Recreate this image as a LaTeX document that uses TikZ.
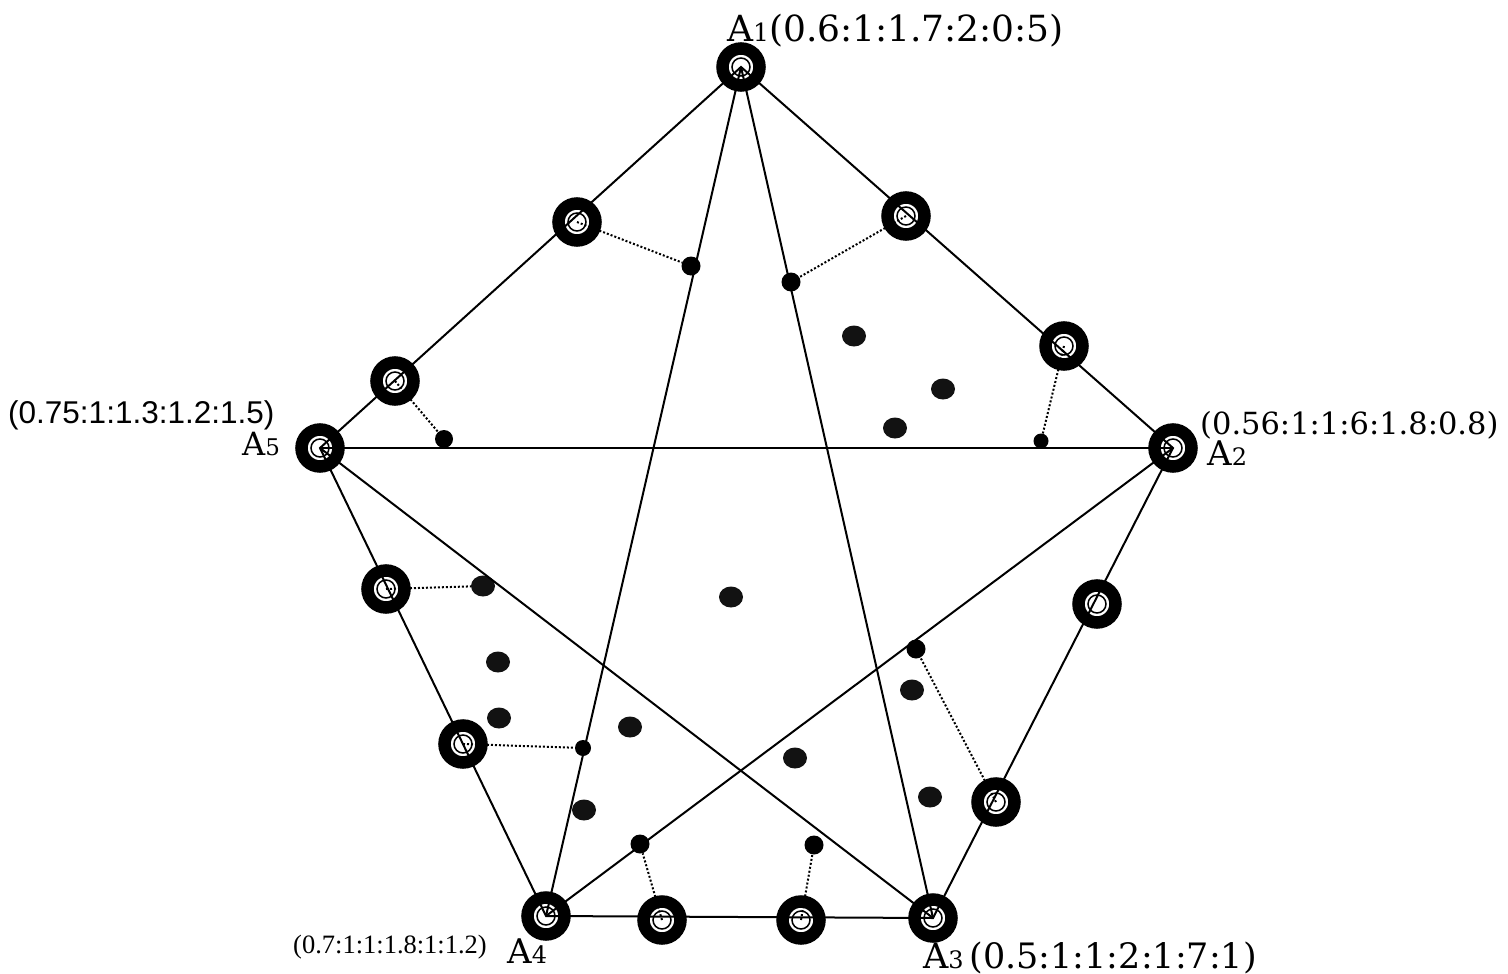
\documentclass[tikz,border=0pt]{standalone}
\usepackage{fontspec}
\usetikzlibrary{shapes.geometric}
\newfontfamily\labserif{DejaVu Serif}
\newfontfamily\labsans{Liberation Sans}
\newfontfamily\labtimes{Liberation Serif}

\begin{document}
\begin{tikzpicture}[x=1pt, y=-1pt,
  ring/.style={circle, draw=black, line width=12.5pt, fill=white, minimum size=37pt, inner sep=0pt,
    path picture={\draw[line width=1.5pt] (path picture bounding box.center) circle[radius=9pt];}},
  bigdot/.style={ellipse, fill=black!93, minimum width=24pt, minimum height=21pt, inner sep=0pt},
  smalldot/.style={circle, fill=black, minimum size=#1, inner sep=0pt},
  smalldot/.default=19pt,
  edge/.style={line width=2pt},
  link/.style={line width=2pt, dash pattern=on 2pt off 2pt},
  lab/.style={anchor=base west, inner sep=0pt}]
  \useasboundingbox (0,0) rectangle (1508,974);

  % corners of the pentagon
  \node[ring] (a1) at (741,67) {};
  \node[ring] (a2) at (1173,448) {};
  \node[ring] (a3) at (933,918) {};
  \node[ring] (a4) at (546,916) {};
  \node[ring] (a5) at (320,448) {};

  % rings on the sides
  \node[ring] (r15a) at (577,222) {};
  \node[ring] (r15b) at (395,381) {};
  \node[ring] (r12a) at (906,216) {};
  \node[ring] (r12b) at (1064,346) {};
  \node[ring] (r23a) at (1097,604) {};
  \node[ring] (r23b) at (996,802) {};
  \node[ring] (r34a) at (801,920) {};
  \node[ring] (r34b) at (662,920) {};
  \node[ring] (r45a) at (463,744) {};
  \node[ring] (r45b) at (386,589) {};

  % dots tied to the rings
  \node[smalldot] (d1) at (691,266) {};
  \node[smalldot] (d2) at (791,282) {};
  \node[smalldot=18pt] (d3) at (444,439) {};
  \node[smalldot=15pt] (d4) at (1041,441) {};
  \node[bigdot] (d5) at (483,586) {};
  \node[smalldot=16pt] (d6) at (583,748) {};
  \node[smalldot] (d7) at (640,844) {};
  \node[smalldot] (d8) at (814,845) {};
  \node[smalldot] (d9) at (916,649) {};

  % free dots
  \node[bigdot] (f1) at (854,336) {};
  \node[bigdot] (f2) at (943,389) {};
  \node[bigdot] (f3) at (895,428) {};
  \node[bigdot] (f4) at (731,597) {};
  \node[bigdot] (f5) at (498,662) {};
  \node[bigdot] (f6) at (499,718) {};
  \node[bigdot] (f7) at (630,727) {};
  \node[bigdot] (f8) at (795,758) {};
  \node[bigdot] (f9) at (584,810) {};
  \node[bigdot] (f10) at (912,690) {};
  \node[bigdot] (f11) at (930,797) {};

  \draw[edge] (a1.center) -- (a2.center) -- (a3.center) -- (a4.center) -- (a5.center) -- cycle;
  \draw[edge] (a1.center) -- (a4.center);
  \draw[edge] (a1.center) -- (a3.center);
  \draw[edge] (a5.center) -- (a2.center);
  \draw[edge] (a5.center) -- (a3.center);
  \draw[edge] (a2.center) -- (a4.center);

  \draw[link] (r15a.center) -- (d1);
  \draw[link] (r12a.center) -- (d2);
  \draw[link] (r15b.center) -- (d3);
  \draw[link] (r12b.center) -- (d4);
  \draw[link] (r45b.center) -- (d5);
  \draw[link] (r45a.center) -- (d6);
  \draw[link] (r34b.center) -- (d7);
  \draw[link] (r34a.center) -- (d8);
  \draw[link] (r23b.center) -- (d9);

  \node[lab] (t1) at (727,42) {\labserif\fontsize{36}{36}\selectfont A{\fontsize{25}{25}\selectfont 1}(0.6:1:1.7:2:0:5)};
  \node[lab] (t2) at (1200,434) {\labserif\fontsize{30.5}{30.5}\selectfont (0.56:1:1:6:1.8:0.8)};
  \node[lab] (n2) at (1207,465) {\labserif\fontsize{34}{34}\selectfont A{\fontsize{24}{24}\selectfont 2}};
  \node[lab] (t3) at (923,968) {\labserif\fontsize{35}{35}\selectfont A{\fontsize{24}{24}\selectfont 3}\,(0.5:1:1:2:1:7:1)};
  \node[lab] (t4) at (293,953) {\labtimes\fontsize{26.5}{26.5}\selectfont (0.7:1:1:1.8:1:1.2)};
  \node[lab] (n4) at (507,963) {\labserif\fontsize{34}{34}\selectfont A{\fontsize{24}{24}\selectfont 4}};
  \node[lab] (t5) at (8,423) {\labsans\fontsize{31.5}{31.5}\selectfont (0.75:1:1.3:1.2:1.5)};
  \node[lab] (n5) at (242,455) {\labserif\fontsize{32}{32}\selectfont A{\fontsize{23}{23}\selectfont 5}};
\end{tikzpicture}
\end{document}
